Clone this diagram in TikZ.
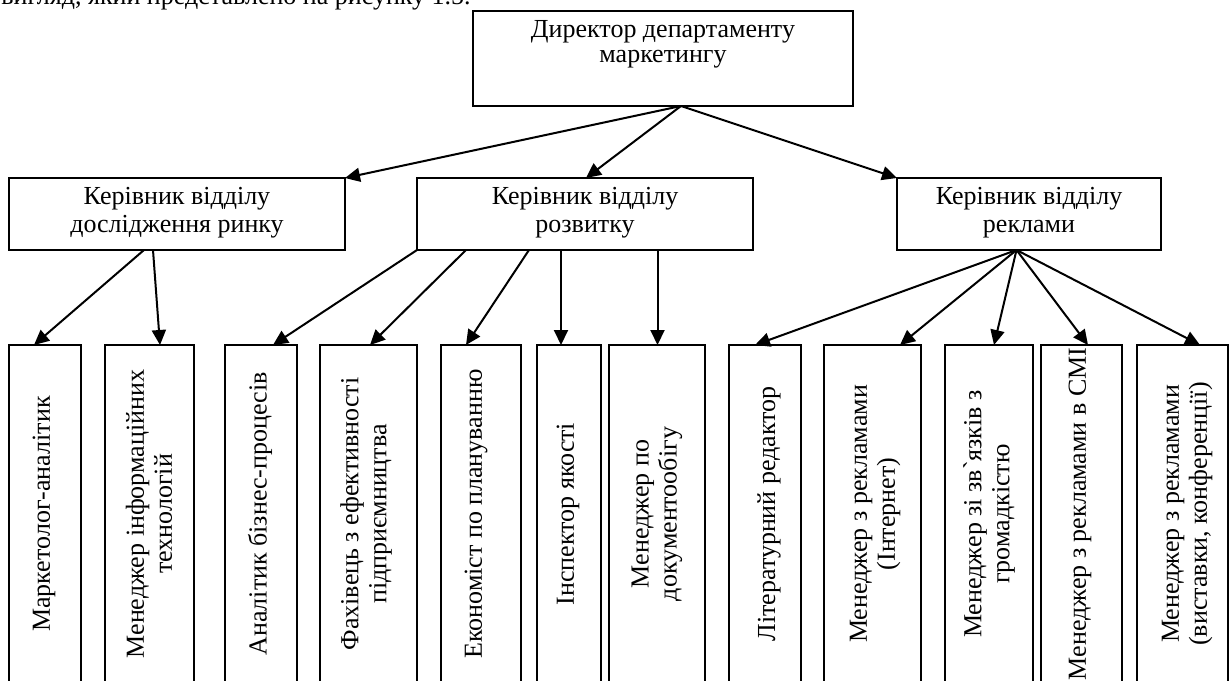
\documentclass[tikz,border=0pt]{standalone}
\usepackage{fontspec}
\setmainfont{Liberation Serif}[Ligatures=TeXOff]
\usetikzlibrary{arrows.meta,calc,fit}
\tikzset{
  box/.style={draw, line width=0.8pt, inner sep=0pt, outer sep=0pt, rectangle},
  txt/.style={font=\fontsize{13}{14}\selectfont, align=center, inner sep=0pt},
  vtext/.style={txt, rotate=90},
  arr/.style={line width=1pt, -{Triangle[length=7.5pt,width=7pt]}}
}
\begin{document}
\begin{tikzpicture}[x=0.5pt,y=-0.5pt]
\useasboundingbox (0,0) rectangle (1231,680);
\clip (0,0) rectangle (1231,680);
% top cut-off text
\node[txt, anchor=base west] (intro) at (1,4) {вигляд, який представлено на рисунку 1.5.};
% top box
\node[box, fit={(473,11) (853,106)}] (T) {};
\node[txt, font=\fontsize{13}{12.5}\selectfont, anchor=base] (Tt) at (663,62) {Директор департаменту\\маркетингу};
% second row
\node[box, fit={(9,178) (345,250)}] (L) {};
\node[box, fit={(417,178) (753,250)}] (M) {};
\node[box, fit={(897,178) (1161,250)}] (R) {};
\node[txt, anchor=base] (Lt) at (177,232) {Керівник відділу\\дослідження ринку};
\node[txt, anchor=base] (Mt) at (585,232) {Керівник відділу\\розвитку};
\node[txt, anchor=base] (Rt) at (1029,232) {Керівник відділу\\реклами};
% bottom boxes
\node[box, fit={(9,345) (81,684)}] (b1) {};
\node[box, fit={(105,345) (194,684)}] (b2) {};
\node[box, fit={(225,345) (297,684)}] (b3) {};
\node[box, fit={(320,345) (417,684)}] (b4) {};
\node[box, fit={(441,345) (521,684)}] (b5) {};
\node[box, fit={(537,345) (601,684)}] (b6) {};
\node[box, fit={(609,345) (705,684)}] (b7) {};
\node[box, fit={(729,345) (801,684)}] (b8) {};
\node[box, fit={(824,345) (921,684)}] (b9) {};
\node[box, fit={(945,345) (1033,684)}] (b10) {};
\node[box, fit={(1041,345) (1122,684)}] (b11) {};
\node[box, fit={(1137,345) (1228,684)}] (b12) {};
% vertical texts
\node[vtext] (t1) at (44,514) {Маркетолог-аналітик};
\node[vtext] (t2) at (149,514) {Менеджер інформаційних\\технологій};
\node[vtext] (t3) at (260,514) {Аналітик бізнес-процесів};
\node[vtext] (t4) at (366,514) {Фахівець з ефективності\\підприємництва};
\node[vtext] (t5) at (476,514) {Економіст по плануванню};
\node[vtext] (t6) at (568,514) {Інспектор якості};
\node[vtext] (t7) at (657,514) {Менеджер по\\документообігу};
\node[vtext] (t8) at (769,514) {Літературний редактор};
\node[vtext] (t9) at (875,514) {Менеджер з рекламами\\(Інтернет)};
\node[vtext] (t10) at (989,514) {Менеджер зі зв`язків з\\громадкістю};
\node[vtext] (t11) at (1080,514) {Менеджер з рекламами в СМІ};
\node[vtext] (t12) at (1187,514) {Менеджер з рекламами\\(виставки, конференції)};
% arrows from top
\coordinate (To) at ($(T.south west)+(208,0)$);
\draw[arr] (To) -- (L.north east);
\draw[arr] (To) -- ($(M.north west)+(169,0)$);
\draw[arr] (To) -- (R.north west);
% arrows from L
\draw[arr] ($(L.south west)+(135,0)$) -- ($(b1.north west)+(25,0)$);
\draw[arr] ($(L.south west)+(144,0)$) -- ($(b2.north west)+(55,0)$);
% arrows from M
\draw[arr] (M.south west) -- ($(b3.north west)+(48,0)$);
\draw[arr] ($(M.south west)+(49,0)$) -- ($(b4.north west)+(50,0)$);
\draw[arr] ($(M.south west)+(112,0)$) -- ($(b5.north west)+(25,0)$);
\draw[arr] ($(M.south west)+(144,0)$) -- ($(b6.north west)+(24,0)$);
\draw[arr] ($(M.south west)+(240.5,0)$) -- ($(b7.north west)+(48.5,0)$);
% arrows from R
\coordinate (Ro) at ($(R.south west)+(119.5,0)$);
\draw[arr] (Ro) -- ($(b8.north west)+(26,0)$);
\draw[arr] (Ro) -- ($(b9.north west)+(76,0)$);
\draw[arr] (Ro) -- ($(b10.north west)+(49,0)$);
\draw[arr] (Ro) -- ($(b11.north west)+(47,0)$);
\draw[arr] (Ro) -- ($(b12.north west)+(63,0)$);
\end{tikzpicture}
\end{document}
